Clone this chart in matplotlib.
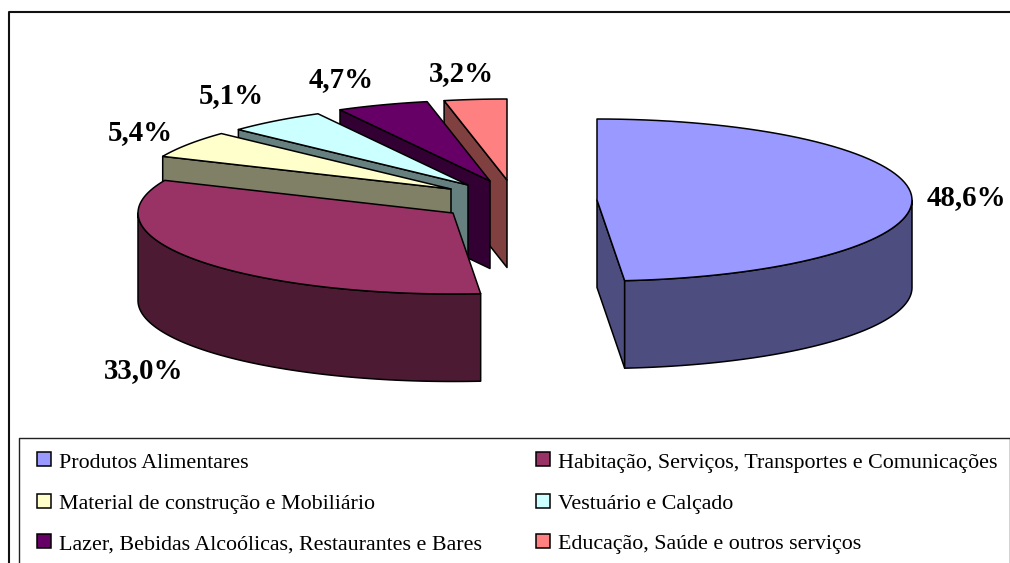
import numpy as np
import matplotlib
matplotlib.use("Agg")
import matplotlib.pyplot as plt
from matplotlib.patches import Polygon, Rectangle

categories = ["Produtos Alimentares",
              "Habitação, Serviços, Transportes e Comunicações",
              "Material de construção e Mobiliário",
              "Vestuário e Calçado",
              "Lazer, Bebidas Alcoólicas, Restaurantes e Bares",
              "Educação, Saúde e outros serviços"]
values = [48.6, 33.0, 5.4, 5.1, 4.7, 3.2]

top_colors = ["#9999FF", "#993366", "#FFFFCC", "#CCFFFF", "#660066", "#FF8080"]
side_colors = ["#4D4D80", "#4D1A33", "#808066", "#668080", "#330033", "#804040"]
# exploded slice centres (layout, in figure pixels)
centres = [(597, 200), (453, 213), (451, 189), (468, 185), (490, 181), (507, 180)]
label_pos = [(966, 198), (144, 371), (140, 133), (231, 96), (341, 80), (461, 74)]
A, B, DEPTH = 315, 81, 87.5
LW = 1.1

plt.rcParams["font.family"] = ["Liberation Serif", "DejaVu Serif"]
fig = plt.figure(figsize=(10.10, 5.63), dpi=100)
ax = fig.add_axes([0, 0, 1, 1])
ax.set_xlim(0, 1010)
ax.set_ylim(563, 0)
ax.axis("off")


def rim(c, a0, a1, n=80):
    t = np.radians(np.linspace(a0, a1, n))
    return np.column_stack([c[0] + A * np.sin(t), c[1] - B * np.cos(t)])


def poly(pts, color, z):
    ax.add_patch(Polygon(pts, closed=True, facecolor=color, edgecolor="black",
                         linewidth=LW, joinstyle="round", zorder=z))


edges = np.concatenate([[0], np.cumsum(values) / np.sum(values) * 360])
drop = np.array([0, DEPTH])
z = 2
for i in [5, 4, 3, 2, 1, 0]:
    a0, a1, c = edges[i], edges[i + 1], np.array(centres[i], float)
    # radial cut face
    if a0 > 180:          # back slices show their leading face
        p = rim(c, a0, a0, 1)[0]
        poly([p, c, c + drop, p + drop], side_colors[i], z)
    if a0 < 90 < a1:      # front-right rim and trailing cut face
        p = rim(c, a1, a1, 1)[0]
        poly([c, p, p + drop, c + drop], side_colors[i], z)
    lo, hi = max(a0, 90), min(a1, 270)
    if lo < hi:           # outer wall
        r = rim(c, lo, hi)
        poly(np.vstack([r, (r + drop)[::-1]]), side_colors[i], z)
    poly(np.vstack([[c], rim(c, a0, a1)]), top_colors[i], z + 1)
    z += 2

for v, (x, y) in zip(values, label_pos):
    ax.text(x, y, f"{v:.1f}%".replace(".", ","), fontsize=20.8, fontweight="bold",
            ha="center", va="center", color="black", zorder=30)

# outer frame
ax.plot([8.5, 8.5, 1010], [563, 11.5, 11.5], color="#111111", lw=1.5, zorder=40)
# legend box
ax.plot([18.5, 18.5, 1009.5, 1009.5], [563, 437.5, 437.5, 563], color="#222222", lw=1.0, zorder=40)

legend_x = [37, 536]
legend_y = [459, 500.5, 540.5]
for i, name in enumerate(categories):
    x = legend_x[i % 2]
    y = legend_y[i // 2]
    ax.add_patch(Rectangle((x, y - 7), 14, 14, facecolor=top_colors[i], edgecolor="black",
                           linewidth=1.1, zorder=41))
    ax.text(x + 22, y + 9, name, fontsize=15.8, ha="left", va="baseline", color="black", zorder=41)

fig.savefig("out.png", dpi=100, facecolor="white")
